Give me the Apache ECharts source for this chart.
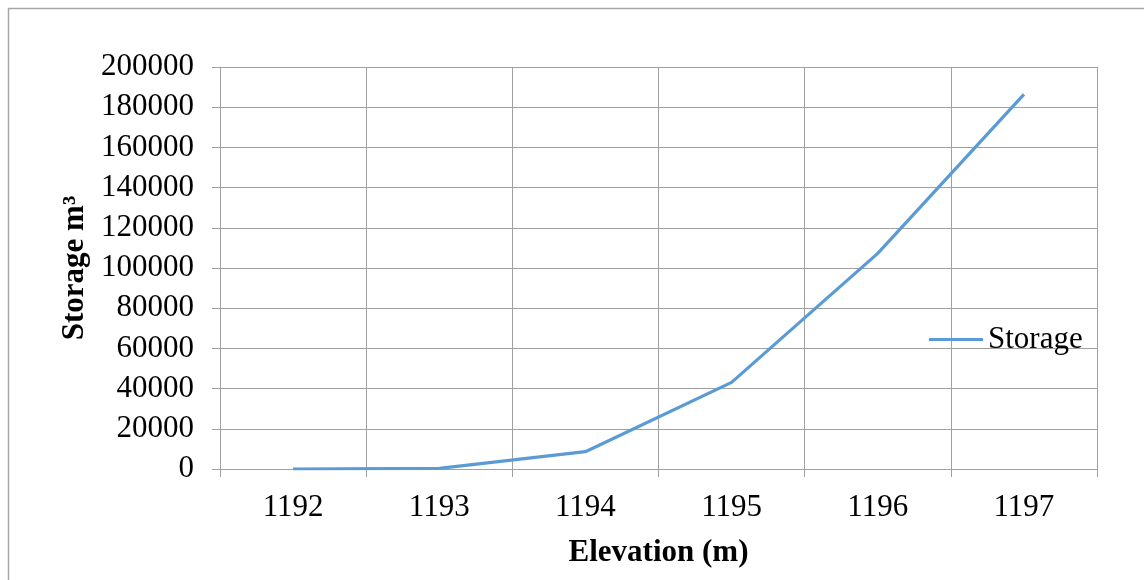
<!DOCTYPE html>
<html>
<head>
<meta charset="utf-8">
<script src="https://cdn.jsdelivr.net/npm/echarts@6/dist/echarts.min.js"></script>
<style>
  html, body { margin: 0; padding: 0; background: #fff; }
  #chart { width: 1144px; height: 580px; }
</style>
</head>
<body>
<div id="chart"></div>
<script>
const elevations = ['1192', '1193', '1194', '1195', '1196', '1197'];
const storage = [0, 350, 8600, 43100, 107300, 186400];
const seriesName = 'Storage';
const xTitle = 'Elevation (m)';
const yTitle = 'Storage m³';

const FONT = '"Liberation Serif", "Times New Roman", serif';
const GRID = '#a0a0a0';

const chart = echarts.init(document.getElementById('chart'), null, { renderer: 'canvas' });
chart.setOption({
  animation: false,
  backgroundColor: '#fff',
  graphic: [{
    type: 'rect',
    shape: { x: 8.5, y: 8.5, width: 1300, height: 700 },
    style: { fill: 'none', stroke: '#a6a6a6', lineWidth: 1.5 },
    silent: true
  }],
  grid: { left: 220, right: 47, top: 67, bottom: 111, containLabel: false },
  legend: {
    show: true,
    left: 929,
    top: 324,
    padding: 0,
    itemWidth: 54,
    itemHeight: 3,
    itemGap: 0,
    data: [{ name: seriesName, icon: 'rect' }],
    textStyle: { fontFamily: FONT, fontSize: 31, color: '#000' }
  },
  xAxis: {
    type: 'category',
    data: elevations,
    boundaryGap: true,
    name: xTitle,
    nameLocation: 'middle',
    nameGap: 68,
    nameTextStyle: { fontFamily: FONT, fontSize: 31, fontWeight: 'bold', color: '#000' },
    axisLine: { show: true, lineStyle: { color: GRID, width: 1 } },
    axisTick: { show: true, length: 8, lineStyle: { color: GRID, width: 1 } },
    axisLabel: { fontFamily: FONT, fontSize: 31, color: '#000', margin: 23 },
    splitLine: { show: true, lineStyle: { color: GRID, width: 1 } }
  },
  yAxis: {
    type: 'value',
    min: 0,
    max: 200000,
    interval: 20000,
    name: yTitle,
    nameLocation: 'middle',
    nameGap: 113,
    nameTextStyle: { fontFamily: FONT, fontSize: 31, fontWeight: 'bold', color: '#000' },
    axisLine: { show: true, lineStyle: { color: GRID, width: 1 } },
    axisTick: { show: true, length: 8, lineStyle: { color: GRID, width: 1 } },
    axisLabel: { fontFamily: FONT, fontSize: 31, color: '#000', margin: 26, formatter: v => String(v) },
    splitLine: { show: true, lineStyle: { color: GRID, width: 1 } }
  },
  series: [{
    name: seriesName,
    type: 'line',
    data: storage,
    symbol: 'none',
    showSymbol: false,
    lineStyle: { color: '#5b9bd5', width: 3.2 },
    itemStyle: { color: '#5b9bd5' }
  }]
});
</script>
</body>
</html>
